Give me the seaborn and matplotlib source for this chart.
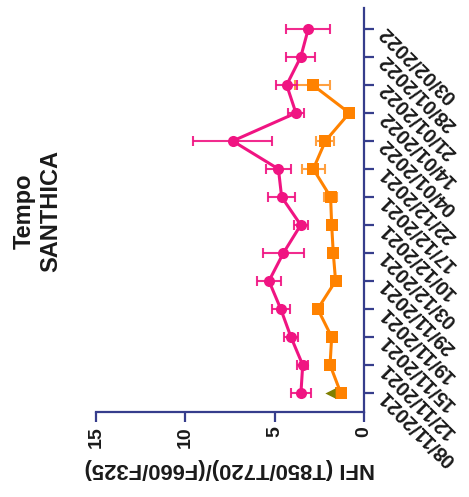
import numpy as np
import pandas as pd
import matplotlib
matplotlib.use("Agg")
import matplotlib.pyplot as plt
import seaborn as sns

# Sampling dates (bottom to top)
dates = ["08/11/2021", "12/11/2021", "15/11/2021", "19/11/2021", "29/11/2021",
         "03/12/2021", "10/12/2021", "17/12/2021", "22/12/2021", "04/01/2022",
         "14/01/2022", "21/01/2022", "28/01/2022", "03/02/2022"]

# NFI means and SD per series
pink_mean = [3.53, 3.43, 4.09, 4.66, 5.32, 4.51, 3.54, 4.61, 4.79, 7.35, 3.81, 4.33, 3.54, 3.12]
pink_sd = [0.56, 0.31, 0.39, 0.51, 0.68, 1.16, 0.40, 0.77, 0.72, 2.22, 0.47, 0.59, 0.81, 1.23]
orange_mean = [1.30, 1.90, 1.81, 2.59, 1.59, 1.72, 1.81, 1.87, 2.84, 2.16, 0.82, 2.87, np.nan, np.nan]
orange_sd = [0.20, 0.20, 0.20, 0.20, 0.20, 0.20, 0.20, 0.35, 0.63, 0.50, 0.20, 0.98, np.nan, np.nan]
olive_mean = [1.90] + [np.nan] * 13

value_ticks = [0, 5, 10, 15]

PINK = "#F01482"
ORANGE = "#FF8200"
OLIVE = "#7F7F00"
NAVY = "#363D8C"

sns.set_style("white")
plt.rcParams["font.family"] = ["Liberation Sans", "DejaVu Sans"]
plt.rcParams["font.weight"] = "bold"

pos = np.arange(len(dates))
df = pd.DataFrame({"pos": pos, "pink": pink_mean, "pink_sd": pink_sd,
                   "orange": orange_mean, "orange_sd": orange_sd, "olive": olive_mean})

fig = plt.figure(figsize=(4.69, 4.97), dpi=100)
ax = fig.add_axes([96 / 469, 1 - 412 / 497, (364 - 96) / 469, (412 - 8) / 497])

# error bars
ax.errorbar(df["orange"], df["pos"], xerr=df["orange_sd"], fmt="none",
            ecolor="#FFA040", elinewidth=1.5, capsize=3.6, capthick=1.5, zorder=2)
ax.errorbar(df["pink"], df["pos"], xerr=df["pink_sd"], fmt="none",
            ecolor=PINK, elinewidth=1.5, capsize=3.6, capthick=1.5, zorder=2, alpha=0.9)

# series lines with markers
sns.lineplot(data=df.dropna(subset=["orange"]), x="orange", y="pos", orient="y",
             color=ORANGE, linewidth=2.2, marker="s", markersize=8.6,
             markeredgewidth=0, ax=ax, zorder=3)
sns.lineplot(data=df, x="pink", y="pos", orient="y", color=PINK, linewidth=2.2,
             marker="o", markersize=8, markeredgewidth=0, ax=ax, zorder=4)
sns.scatterplot(data=df.dropna(subset=["olive"]), x="olive", y="pos", color=OLIVE,
                marker="<", s=55, linewidth=0, ax=ax, zorder=3)

ax.set_xlim(15, 0)
ax.set_ylim(-0.68, 13.75)

# axes styling
for side in ["top", "left"]:
    ax.spines[side].set_visible(False)
for side in ["bottom", "right"]:
    ax.spines[side].set_color(NAVY)
    ax.spines[side].set_linewidth(1.6)

ax.yaxis.tick_right()
ax.set_yticks(pos)
ax.set_yticklabels(dates)
ax.set_xticks(value_ticks)
ax.set_xticklabels([str(v) for v in value_ticks])
ax.tick_params(axis="both", which="major", direction="out", length=7.5, width=1.6,
               color=NAVY, labelcolor="#1a1a1a", labelsize=14)
ax.tick_params(axis="y", pad=6, right=True, left=False, labelsize=14.3)
ax.tick_params(axis="x", pad=3, bottom=True)

for lab in ax.get_yticklabels():
    lab.set_rotation(135)
    lab.set_rotation_mode("anchor")
    lab.set_ha("right")
    lab.set_va("center")
    lab.set_fontweight("bold")
for lab in ax.get_xticklabels():
    lab.set_rotation(90)
    lab.set_fontweight("bold")

ax.set_xlabel("NFI (T850/T720)/(F660/F325)", fontsize=15.8, fontweight="bold",
              rotation=180, va="center", ha="center", color="#1a1a1a")
ax.xaxis.set_label_coords(0.5, -0.139)
ax.set_ylabel("")

fig.text(37.5 / 469, 1 - 211 / 497, "Tempo\nSANTHICA", rotation=90, ha="center",
         va="center", multialignment="center", fontsize=17, fontweight="bold",
         color="#1a1a1a")

fig.savefig("out.png", dpi=100)
